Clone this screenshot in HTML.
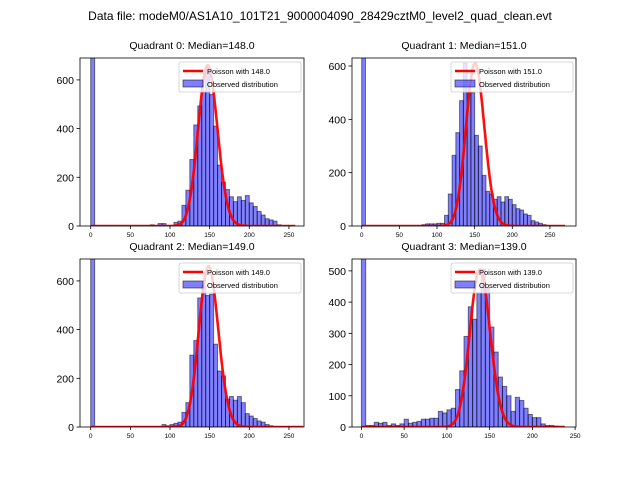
<!DOCTYPE html>
<html><head><meta charset="utf-8"><style>
body{margin:0;background:#fff;}
svg{display:block;font-family:"Liberation Sans","DejaVu Sans",sans-serif;}
</style></head><body>
<svg id="c" width="640" height="480">
<text x="320" y="20" text-anchor="middle" font-size="12">Data file: modeM0/AS1A10_101T21_9000004090_28429cztM0_level2_quad_clean.evt</text>
</svg>
<script>
const titles=["Quadrant 0: Median=148.0","Quadrant 1: Median=151.0","Quadrant 2: Median=149.0","Quadrant 3: Median=139.0"];
const medians=[148,151,149,139];
const peakHeights=[660,610,660,505];
const binStarts=[0,5,10,15,20,25,30,35,40,45,50,55,60,65,70,75,80,85,90,95,100,105,110,115,120,125,130,135,140,145,150,155,160,165,170,175,180,185,190,195,200,205,210,215,220,225,230,235,240,245,250,255,260];
const counts0=[5000,0,0,0,0,0,0,0,0,0,0,0,0,0,0,5,0,10,10,0,0,15,20,85,147,273,415,493,552,655,540,410,250,180,150,120,100,120,105,125,95,80,60,45,30,25,20,5,0,0,0,0,0];
const counts1=[5000,0,0,0,0,0,0,0,0,0,0,0,0,0,0,0,5,8,8,8,10,10,40,120,265,350,470,610,500,500,340,300,190,130,120,100,110,90,110,100,80,65,60,45,40,20,15,10,5,0,0,0,0];
const counts2=[5000,0,0,0,0,0,0,0,0,0,0,0,0,0,0,0,0,0,10,5,10,15,20,60,100,295,355,530,580,540,545,340,230,210,115,125,110,125,100,55,45,35,25,20,10,5,0,0,0,0,0,0,0];
const counts3=[5000,5,5,15,12,15,5,10,5,10,25,12,15,18,25,25,28,28,50,45,55,60,120,180,290,385,345,430,505,445,320,240,160,130,100,50,95,85,60,40,30,30,10,5,5,3,0,0,0,0,0,0,0];
const allCounts=[counts0,counts1,counts2,counts3];
const xTicks=[0,50,100,150,200,250];
const yTicks=[[0,200,400,600],[0,200,400,600],[0,200,400,600],[0,100,200,300,400,500]];
const curveEnd=[258,270,268,238];
const boxes=[[80,58,224,168],[352,58,224,168],[80,259,224,168],[352,259,224,168]];
const xDom=[[-13.5,269],[-12.9,284.6],[-13.5,269],[-11,251]];
const yMax=[690,630,690,538];
const svg=document.getElementById('c');
const NS="http://www.w3.org/2000/svg";
function mk(t,a,p){const e=document.createElementNS(NS,t);for(const k in a)e.setAttribute(k,a[k]);(p||svg).appendChild(e);return e;}
function logPois(k,m){let s=0;for(let i=2;i<=k;i++)s+=Math.log(i);return k*Math.log(m)-m-s;}
for(let q=0;q<4;q++){
 const [bx,by,bw,bh]=boxes[q];
 const xs=v=>bx+(v-xDom[q][0])/(xDom[q][1]-xDom[q][0])*bw;
 const ys=v=>by+bh-v/yMax[q]*bh;
 const g=mk('g',{});
 
 
 const cid='clip'+q;
 const cp=mk('clipPath',{id:cid},g);mk('rect',{x:bx,y:by,width:bw,height:bh},cp);
 const t=mk('text',{x:bx+bw/2,y:by-9,'text-anchor':'middle','font-size':'10.5'},g);t.textContent=titles[q];
 
 
 const pg=mk('g',{'clip-path':'url(#'+cid+')'},g);
 const c=allCounts[q];
 for(let i=0;i<binStarts.length;i++){if(!c[i])continue;
  const r=mk('rect',{x:xs(binStarts[i]),y:ys(c[i]),width:xs(binStarts[i]+5)-xs(binStarts[i]),height:ys(0)-ys(c[i]),fill:'rgba(0,0,255,0.5)',stroke:'rgba(0,0,0,0.5)','stroke-width':'1'},pg);
  
  
 }
 const m=medians[q],lp=logPois(Math.round(m),m);let d='';
 for(let k=0;k<=curveEnd[q];k++){const v=peakHeights[q]*Math.exp(logPois(k,m)-lp);d+=(k?'L':'M')+xs(k).toFixed(1)+','+ys(v).toFixed(1);}
 const pl=mk('path',{d:d,fill:'none',stroke:'red','stroke-width':'2.6',opacity:'0.95'},pg);
 
 
 mk('rect',{x:bx,y:by,width:bw,height:bh,fill:'none',stroke:'#000','stroke-width':'0.8'},g);
 xTicks.forEach(v=>{if(xs(v)>bx+bw)return;mk('line',{x1:xs(v),x2:xs(v),y1:by+bh,y2:by+bh+3,stroke:'#000','stroke-width':'0.8'},g);
  const tl=mk('text',{x:xs(v),y:by+bh+11,'text-anchor':'middle','font-size':'6.5'},g);tl.textContent=v;
  
  });
 yTicks[q].forEach(v=>{mk('line',{x1:bx-3.5,x2:bx,y1:ys(v),y2:ys(v),stroke:'#000','stroke-width':'0.8'},g);
  const tl=mk('text',{x:bx-6,y:ys(v)+4,'text-anchor':'end','font-size':'10.5'},g);tl.textContent=v;
  
  });
 const lg=mk('g',{},g);
 
 
 const lx=bx+bw-125,ly=by+4;
 mk('rect',{x:lx,y:ly,width:122,height:30,fill:'rgba(255,255,255,0.8)',stroke:'#ccc','stroke-width':'0.8',rx:2},lg);
 mk('line',{x1:lx+4,x2:lx+24,y1:ly+9,y2:ly+9,stroke:'red','stroke-width':'2.6'},lg);
 const a=mk('text',{x:lx+28,y:ly+12,'font-size':'7.5'},lg);a.textContent='Poisson with '+m.toFixed(1);
 mk('rect',{x:lx+4,y:ly+18,width:20,height:7,fill:'rgba(0,0,255,0.5)',stroke:'rgba(0,0,0,0.5)'},lg);
 const b=mk('text',{x:lx+28,y:ly+25,'font-size':'7.5'},lg);b.textContent='Observed distribution';
}
</script>
</body></html>
